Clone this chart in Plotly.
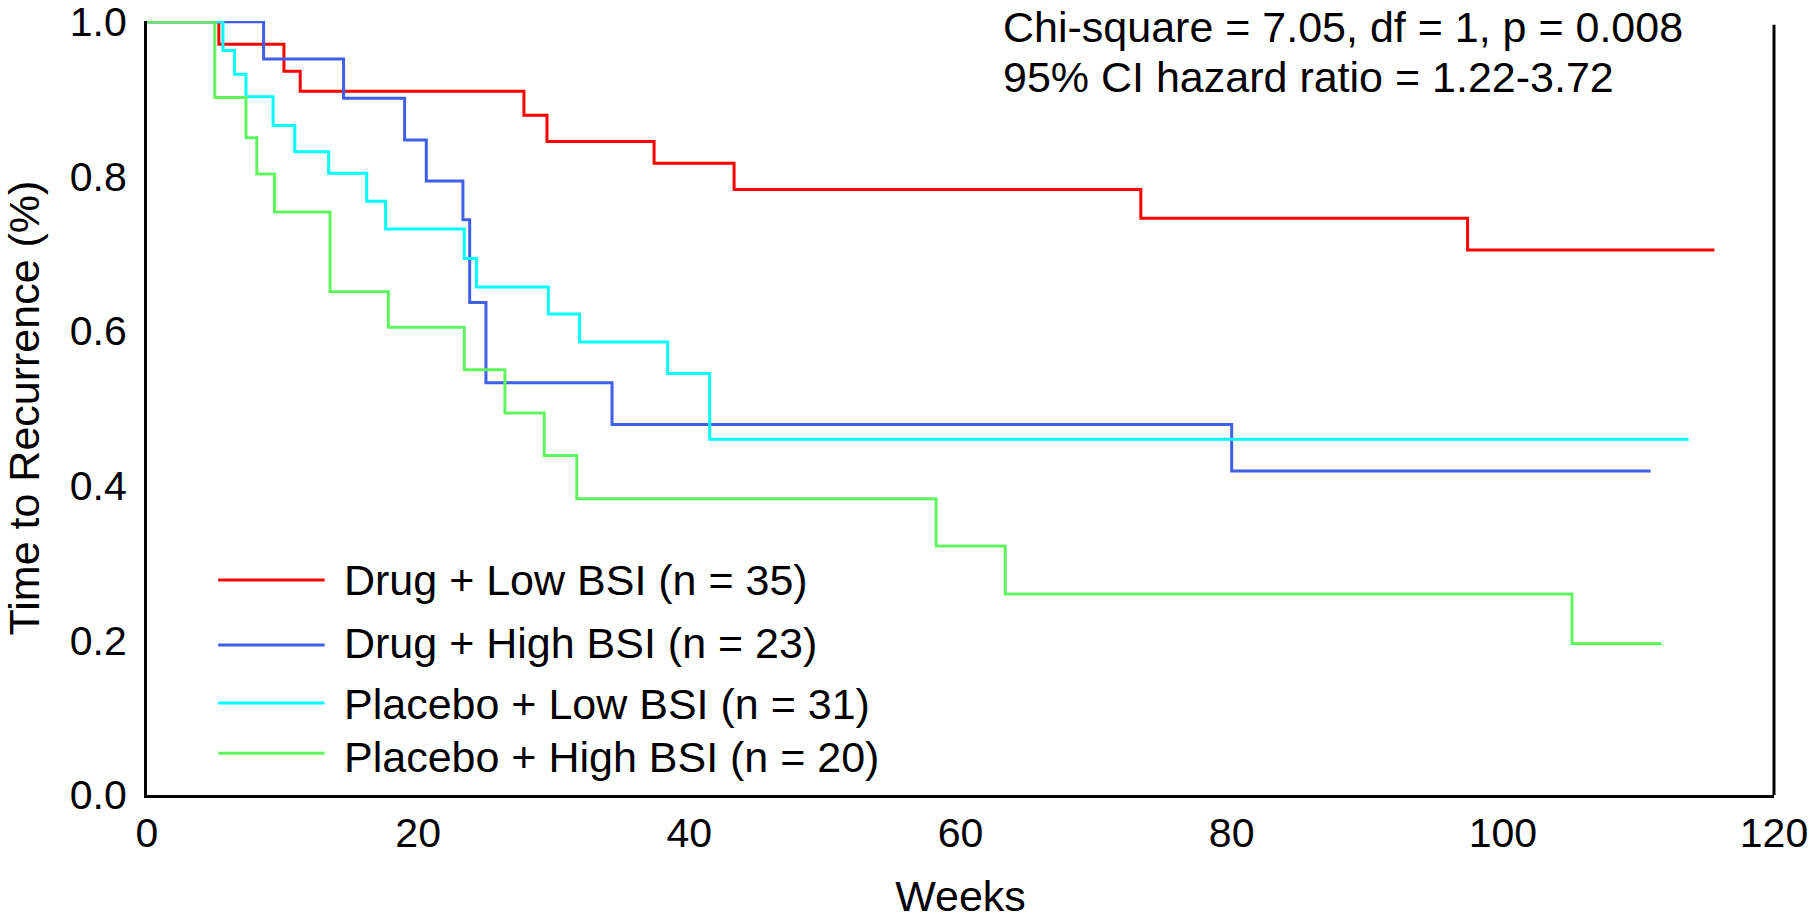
import plotly.graph_objects as go

# ---- data ----
series_names = [
    "Drug + Low BSI (n = 35)",
    "Drug + High BSI (n = 23)",
    "Placebo + Low BSI (n = 31)",
    "Placebo + High BSI (n = 20)",
]

drug_low_weeks = [0, 5.3, 10.1, 11.3, 27.8, 29.5, 37.4, 43.3, 73.3, 97.4, 115.6]
drug_low_surv = [1.0, 0.971, 0.936, 0.910, 0.879, 0.845, 0.817, 0.783, 0.746, 0.705, 0.705]

drug_high_weeks = [0, 8.6, 14.5, 19.0, 20.6, 23.3, 23.8, 25.0, 34.3, 80.0, 110.9]
drug_high_surv = [1.0, 0.952, 0.901, 0.847, 0.794, 0.744, 0.637, 0.533, 0.479, 0.419, 0.419]

placebo_low_weeks = [0, 5.6, 6.45, 7.3, 9.3, 10.9, 13.4, 16.2, 17.6, 23.4, 24.3, 29.6, 31.9, 38.4, 41.5, 113.7]
placebo_low_surv = [1.0, 0.963, 0.932, 0.903, 0.866, 0.832, 0.804, 0.768, 0.732, 0.694, 0.657, 0.622, 0.586, 0.545, 0.460, 0.460]

placebo_high_weeks = [0, 5.0, 7.3, 8.1, 9.4, 13.5, 17.8, 23.4, 26.4, 29.3, 31.7, 58.2, 63.3, 105.1, 111.7]
placebo_high_surv = [1.0, 0.902, 0.850, 0.803, 0.754, 0.651, 0.605, 0.550, 0.494, 0.439, 0.383, 0.322, 0.260, 0.196, 0.196]

x_ticks = [0, 20, 40, 60, 80, 100, 120]
y_ticks = [0.0, 0.2, 0.4, 0.6, 0.8, 1.0]
y_tick_text = ["0.0", "0.2", "0.4", "0.6", "0.8", "1.0"]

stats_lines = [
    "Chi-square = 7.05, df = 1, p = 0.008",
    "95% CI hazard ratio = 1.22-3.72",
]

colors = ["#FF0000", "#3F5FE6", "#00FFFF", "#5FF55F"]

FONT = "Liberation Sans, Arial, Helvetica, sans-serif"

fig = go.Figure()
all_series = [
    (drug_low_weeks, drug_low_surv),
    (drug_high_weeks, drug_high_surv),
    (placebo_low_weeks, placebo_low_surv),
    (placebo_high_weeks, placebo_high_surv),
]
for name, (wx, sy), col in zip(series_names, all_series, colors):
    fig.add_trace(go.Scatter(
        x=wx, y=sy, mode="lines", name=name,
        line=dict(color=col, width=3, shape="hv"),
        cliponaxis=False, showlegend=False,
    ))

# custom legend (long line samples like the reference)
leg_line_y = [0.278, 0.194, 0.119, 0.054]
leg_text_y = [0.278, 0.196, 0.118, 0.049]
for name, col, ly, ty in zip(series_names, colors, leg_line_y, leg_text_y):
    fig.add_shape(type="line", xref="x", yref="y", x0=5.25, x1=13.1, y0=ly, y1=ly,
                  line=dict(color=col, width=3))
    fig.add_annotation(x=14.4, y=ty, xref="x", yref="y", text=name, showarrow=False,
                       xanchor="left", yanchor="middle",
                       font=dict(family=FONT, size=43, color="black"))

# stats text
for txt, ty in zip(stats_lines, [0.993, 0.929]):
    fig.add_annotation(x=63.0, y=ty, xref="x", yref="y", text=txt, showarrow=False,
                       xanchor="left", yanchor="middle",
                       font=dict(family=FONT, size=43, color="black"))

# right frame line
fig.add_shape(type="line", xref="x domain", yref="y domain", x0=1, x1=1, y0=0, y1=0.995,
              line=dict(color="black", width=3))

fig.update_layout(
    width=1812, height=920,
    margin=dict(l=147, r=38, t=21, b=125),
    paper_bgcolor="white", plot_bgcolor="white",
    font=dict(family=FONT, size=41, color="black"),
    showlegend=False,
)
fig.update_xaxes(
    range=[0, 120], tickvals=x_ticks, showgrid=False, zeroline=False,
    showline=True, linecolor="black", linewidth=3, ticks="", automargin=False,
    tickfont=dict(size=41), ticklabelstandoff=0, ticklabeloverflow="allow",
    title=dict(text="Weeks", font=dict(size=43), standoff=27),
)
fig.update_yaxes(
    range=[0, 1.001], tickvals=y_ticks, ticktext=y_tick_text, showgrid=False, zeroline=False,
    showline=True, linecolor="black", linewidth=3, ticks="", automargin=False,
    tickfont=dict(size=41), ticklabelstandoff=9, ticklabeloverflow="allow",
    title=dict(text="Time to Recurrence (%)", font=dict(size=43), standoff=34),
)

fig.write_html(
    "out.html",
    config={"displayModeBar": False},
    post_script="document.body.style.margin='0';document.body.style.overflow='hidden';",
)
